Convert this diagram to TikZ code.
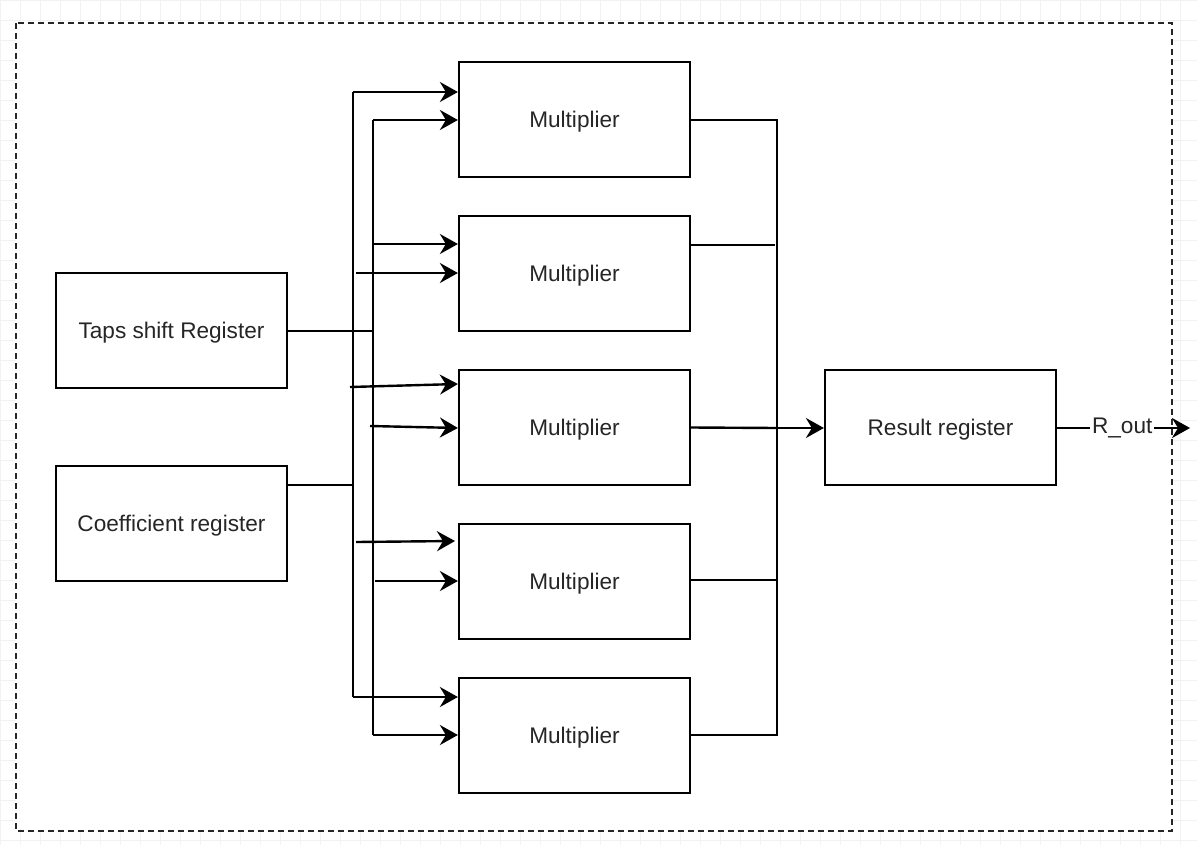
\documentclass[tikz,border=0pt]{standalone}
\usepackage{fontspec}
\setmainfont{Liberation Sans}
\usetikzlibrary{arrows.meta}

\begin{document}
\begin{tikzpicture}[x=0.5pt, y=-0.5pt,
  wire/.style={line width=1.2pt, draw=black},
  feed/.style={wire, -{Stealth[length=9pt, width=10pt, inset=3pt]}},
  label/.style={font=\fontsize{11.3}{13}\selectfont, text=black!85},
  block/.style={draw=black, line width=1.1pt, fill=white, minimum width=115.5pt,
                minimum height=57.5pt, inner sep=0pt, label,
                text height=8.4pt, text depth=0pt},
  frame/.style={draw=black!85, line width=1.1pt, dash pattern=on 3pt off 2pt, fill=white}]

  % canvas and faint background grid
  \useasboundingbox (0,0) rectangle (1197,845);
  \fill[white] (0,0) rectangle (1197,845);
  \draw[black!5, line width=0.3pt, step=10pt] (0,0) grid (1197,845);

  % dashed enclosure
  \draw[frame] (16,23) rectangle (1172,831);

  % registers
  \node[block] (taps)  at (171.5,330.5) {Taps shift Register};
  \node[block] (coef)  at (171.5,523.5) {Coefficient register};

  % multipliers
  \node[block] (m1) at (574.5,119.5) {Multiplier};
  \node[block] (m2) at (574.5,273.5) {Multiplier};
  \node[block] (m3) at (574.5,427.5) {Multiplier};
  \node[block] (m4) at (574.5,581.5) {Multiplier};
  \node[block] (m5) at (574.5,735.5) {Multiplier};

  % result register
  \node[block] (res) at (940.5,427.5) {Result register};

  % bus points
  \coordinate (aTop) at (353,92);
  \coordinate (aBot) at (353,697);
  \coordinate (bTop) at (373,120);
  \coordinate (bBot) at (373,735);
  \coordinate (aIn)  at (353,485);
  \coordinate (bIn)  at (373,331);
  \coordinate (cTop) at (777,120);
  \coordinate (cBot) at (777,735);
  \coordinate (cOut) at (777,428);
  \coordinate (rEnd) at (1190,428);

  % register outputs onto the two buses
  \draw[wire] (taps.east |- bIn) -- (bIn);
  \draw[wire] (coef.east |- aIn) -- (aIn);

  % vertical buses
  \draw[wire] (aTop) -- (aBot);
  \draw[wire] (bTop) -- (bBot);

  % multiplier inputs
  \draw[feed] (aTop) -- (m1.west |- aTop);
  \draw[feed] (bTop) -- (m1.west |- bTop);
  \draw[feed] (372,244) -- (m2.west |- 0,244);
  \draw[feed] (356,273) -- (m2.west |- 0,273);
  \draw[feed] (350,387) -- (m3.west |- 0,384);
  \draw[feed] (370,426) -- (m3.west |- 0,428);
  \draw[feed] (356,542) -- (455,541);
  \draw[feed] (375,581) -- (m4.west |- 0,581);
  \draw[feed] (aBot) -- (m5.west |- aBot);
  \draw[feed] (bBot) -- (m5.west |- bBot);

  % multiplier outputs onto the collecting bus
  \draw[wire] (m1.east |- cTop) -- (cTop) -- (cBot) -- (m5.east |- cBot);
  \draw[wire] (m2.east |- 0,245) -- (775,245);
  \draw[wire] (m3.east) -- (cOut);
  \draw[wire] (m4.east |- 0,580) -- (777,580);
  \draw[feed] (cOut) -- (res.west |- cOut);

  % final output
  \draw[feed] (res.east |- rEnd) -- (rEnd)
    node[pos=0.49, fill=white, inner sep=0.8pt, label] (rout) {R\_out};
\end{tikzpicture}
\end{document}
